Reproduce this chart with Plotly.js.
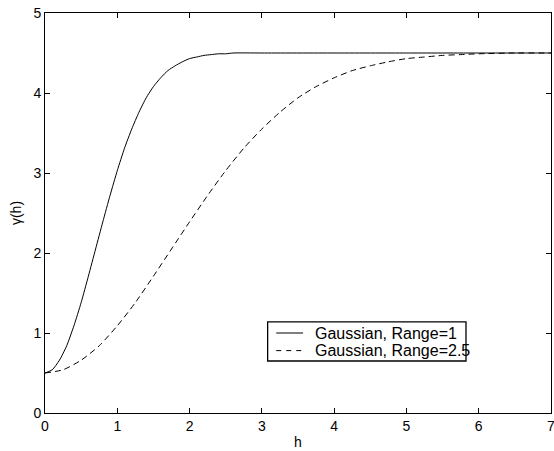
<!DOCTYPE html>
<html>
<head>
<meta charset="utf-8">
<script src="https://cdn.plot.ly/plotly-3.0.1.min.js"></script>
<style>
html,body{margin:0;padding:0;background:#fff;}
#chart{width:554px;height:451px;}
</style>
</head>
<body>
<div id="chart"></div>
<script>
// Gaussian variogram, Range = 1 (solid)
const h1 = [0,0.1,0.2,0.3,0.4,0.5,0.6,0.7,0.8,0.9,1.0,1.1,1.2,1.3,1.4,1.5,1.6,1.7,1.8,1.9,2.0,2.1,2.2,2.3,2.4,2.5,2.6,3.0,4.0,5.0,6.0,7.0];
const g1 = [0.5,0.54,0.66,0.84,1.09,1.38,1.71,2.05,2.39,2.72,3.03,3.31,3.55,3.76,3.94,4.08,4.19,4.28,4.34,4.39,4.43,4.45,4.47,4.48,4.49,4.49,4.5,4.5,4.5,4.5,4.5,4.5];
// Gaussian variogram, Range = 2.5 (dashed)
const h2 = [0,0.25,0.5,0.75,1.0,1.25,1.5,1.75,2.0,2.25,2.5,2.75,3.0,3.25,3.5,3.75,4.0,4.25,4.5,4.75,5.0,5.25,5.5,5.75,6.0,6.5,7.0];
const g2 = [0.5,0.54,0.66,0.84,1.09,1.38,1.71,2.05,2.39,2.72,3.03,3.31,3.55,3.76,3.94,4.08,4.19,4.28,4.34,4.39,4.43,4.45,4.47,4.48,4.49,4.5,4.5];
const names = ['Gaussian, Range=1','Gaussian, Range=2.5'];
const xTicks = [0,1,2,3,4,5,6,7];
const yTicks = [0,1,2,3,4,5];

const font = 'Liberation Sans, Arial, Helvetica, sans-serif';
const dashes = ['solid','6px,4px'];
const traces = [
  {x:h1, y:g1, mode:'lines', name:names[0], line:{color:'#000', width:1, dash:dashes[0], shape:'spline', smoothing:0.6}},
  {x:h2, y:g2, mode:'lines', name:names[1], line:{color:'#000', width:1, dash:dashes[1], shape:'spline', smoothing:0.6}}
];
const axisCommon = {
  showgrid:false, zeroline:false, showline:true, linecolor:'#000', linewidth:1,
  mirror:'ticks', ticks:'inside', ticklen:5, tickwidth:1, tickcolor:'#000',
  ticklabeloverflow:'allow',
  tickfont:{family:font, size:14, color:'#000'}
};
// manual legend (box, line samples and labels) in paper coordinates
const lg = {x0:0.440, x1:0.832, y0:0.130, y1:0.228, sx0:0.457, sx1:0.510, tx:0.529, rows:[0.200, 0.156]};
const shapes = [
  {type:'rect', xref:'paper', yref:'paper', x0:lg.x0, x1:lg.x1, y0:lg.y0, y1:lg.y1,
   line:{color:'#000', width:1.3}, fillcolor:'#fff', layer:'above'}
];
const annotations = [];
names.forEach((n,i)=>{
  shapes.push({type:'line', xref:'paper', yref:'paper', x0:lg.sx0, x1:lg.sx1, y0:lg.rows[i], y1:lg.rows[i],
    line:{color:'#000', width:1, dash:dashes[i]==='solid'?'solid':'5px,5px'}, layer:'above'});
  annotations.push({xref:'paper', yref:'paper', x:lg.tx, y:lg.rows[i], xanchor:'left', yanchor:'middle',
    text:n, showarrow:false, font:{family:font, size:16, color:'#000'}});
});
const layout = {
  width:554, height:451,
  margin:{l:45, r:3, t:13, b:38},
  paper_bgcolor:'#fff', plot_bgcolor:'#fff',
  font:{family:font, color:'#000'},
  xaxis:Object.assign({}, axisCommon, {range:[0,7], tickvals:xTicks, ticktext:xTicks.map(String),
    title:{text:'h', font:{family:font, size:14, color:'#000'}, standoff:4}}),
  yaxis:Object.assign({}, axisCommon, {range:[0,5], tickvals:yTicks, ticktext:yTicks.map(String),
    title:{text:'γ(h)', font:{family:font, size:14, color:'#000'}, standoff:8}}),
  showlegend:false,
  shapes:shapes,
  annotations:annotations
};
Plotly.newPlot('chart', traces, layout, {displayModeBar:false, staticPlot:true});
</script>
</body>
</html>
